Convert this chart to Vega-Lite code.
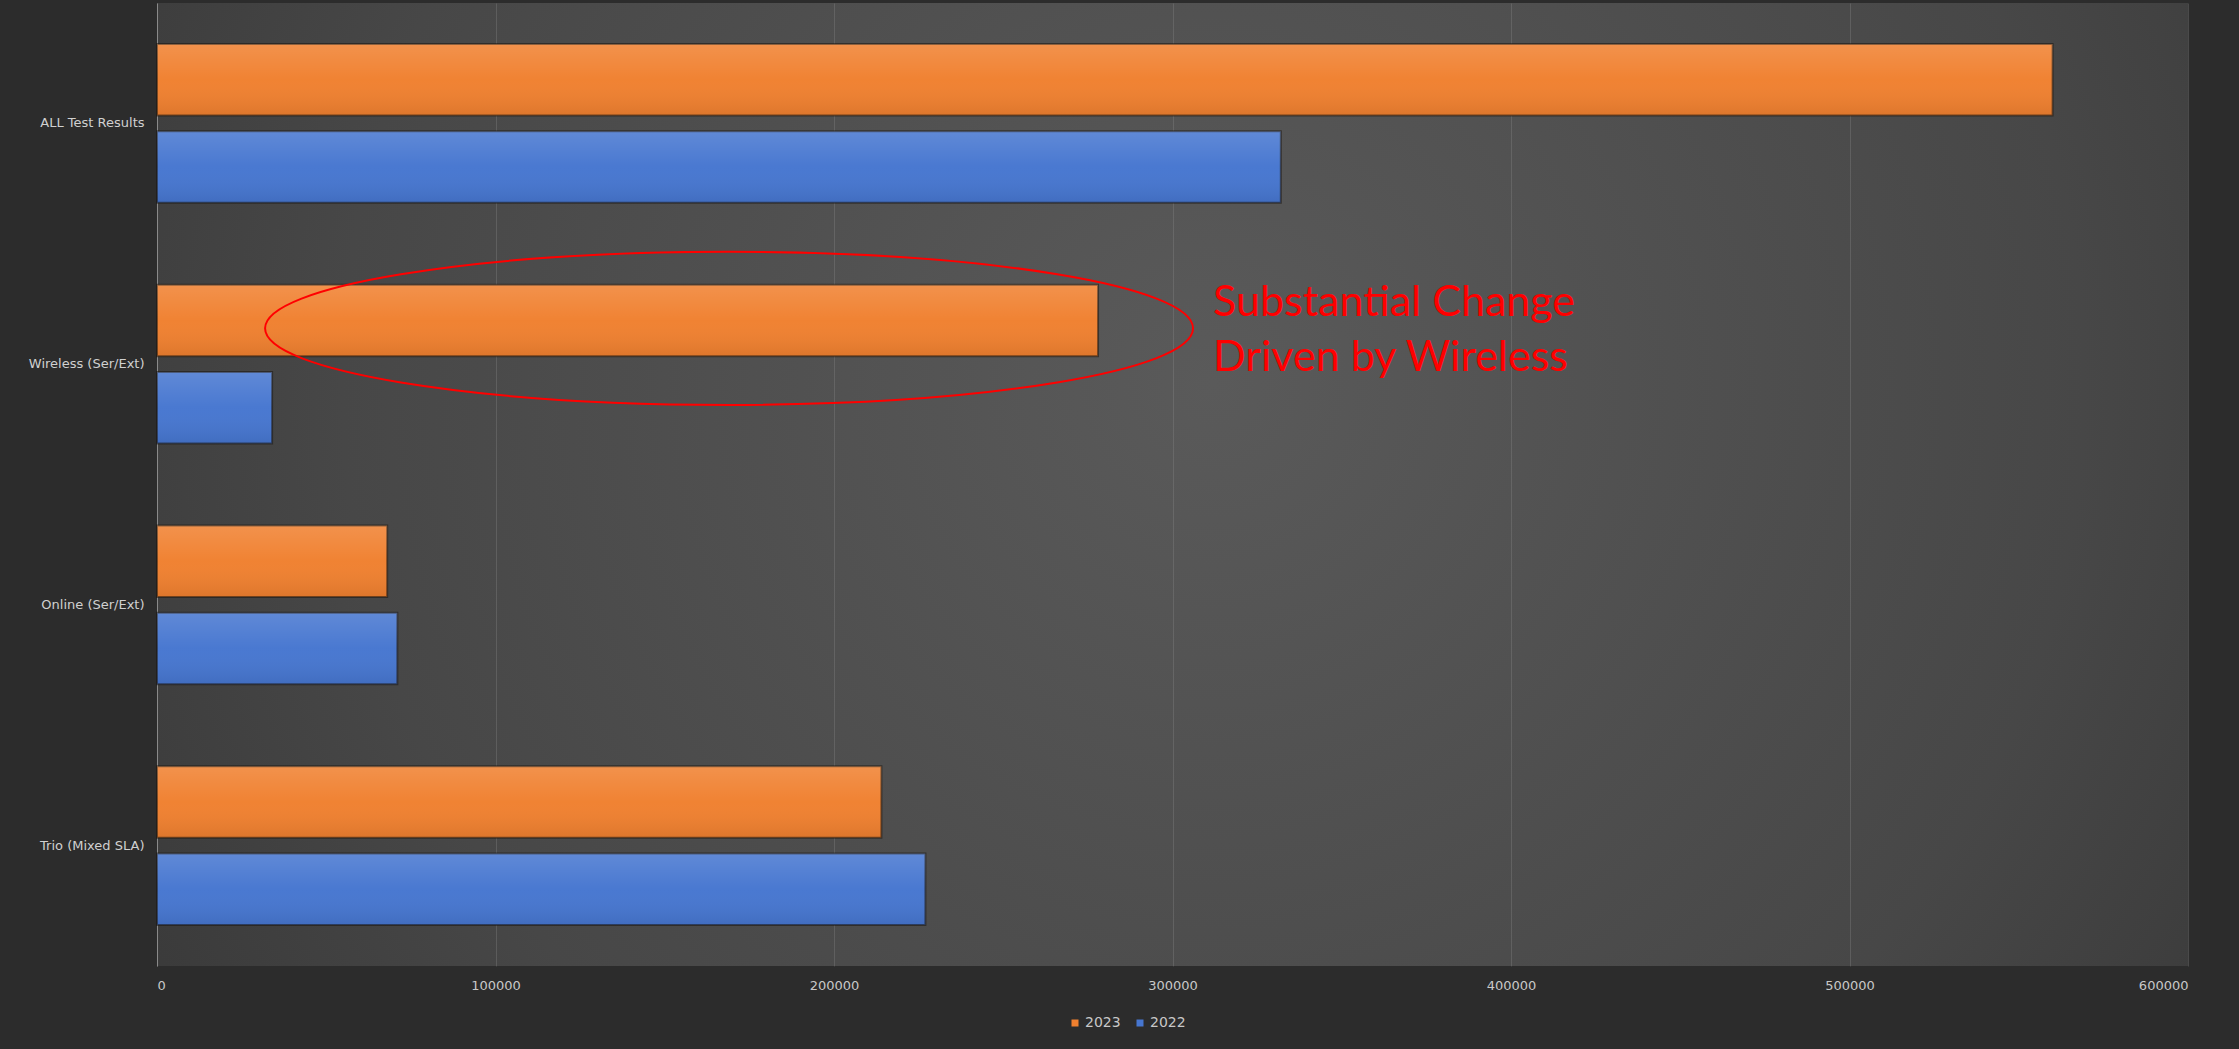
{
  "$schema": "https://vega.github.io/schema/vega-lite/v6.json",
  "autosize": {"type": "none"},
  "width": 2031,
  "height": 963,
  "padding": {"left": 157, "top": 3, "right": 51, "bottom": 83},
  "background": "#2c2c2c",
  "config": {
    "font": "DejaVu Sans"
  },
  "view": {
    "stroke": null,
    "fill": {
      "gradient": "radial",
      "x1": 0.52, "y1": 0.45, "r1": 0,
      "x2": 0.52, "y2": 0.45, "r2": 0.78,
      "stops": [
        {"offset": 0, "color": "#5a5a5a"},
        {"offset": 0.55, "color": "#474747"},
        {"offset": 1, "color": "#2d2d2d"}
      ]
    }
  },
  "datasets": {
    "results": [
      {"category": "ALL Test Results", "year": "2023", "count": 560000},
      {"category": "ALL Test Results", "year": "2022", "count": 332000},
      {"category": "Wireless (Ser/Ext)", "year": "2023", "count": 278000},
      {"category": "Wireless (Ser/Ext)", "year": "2022", "count": 34000},
      {"category": "Online (Ser/Ext)", "year": "2023", "count": 68000},
      {"category": "Online (Ser/Ext)", "year": "2022", "count": 71000},
      {"category": "Trio (Mixed SLA)", "year": "2023", "count": 214000},
      {"category": "Trio (Mixed SLA)", "year": "2022", "count": 227000}
    ],
    "note": [
      {"category": "Wireless (Ser/Ext)", "year": "2023", "center": 169000, "start": 312000, "label": ["Substantial Change", "Driven by Wireless"]}
    ]
  },
  "encoding": {
    "y": {
      "field": "category",
      "type": "nominal",
      "sort": ["ALL Test Results", "Wireless (Ser/Ext)", "Online (Ser/Ext)", "Trio (Mixed SLA)"],
      "scale": {"paddingInner": 0.34, "paddingOuter": 0.17},
      "axis": {
        "title": null,
        "ticks": false,
        "domain": true,
        "domainColor": "#8a8a8a",
        "domainWidth": 1,
        "labelColor": "#d0d0d0",
        "labelFontSize": 13,
        "labelPadding": 13
      }
    },
    "yOffset": {
      "field": "year",
      "type": "nominal",
      "sort": ["2023", "2022"],
      "scale": {"paddingInner": 0.18, "paddingOuter": 0}
    }
  },
  "layer": [
    {
      "data": {"name": "results"},
      "mark": {"type": "bar", "stroke": "#1c1510", "strokeWidth": 2, "strokeOpacity": 0.55},
      "encoding": {
        "x": {
          "field": "count",
          "type": "quantitative",
          "scale": {"domain": [0, 600000], "nice": false},
          "axis": {
            "title": null,
            "values": [0, 100000, 200000, 300000, 400000, 500000, 600000],
            "format": "d",
            "labelOverlap": false,
            "domain": false,
            "ticks": false,
            "grid": true,
            "gridColor": "#8c8c8c",
            "gridOpacity": 0.32,
            "gridWidth": 1,
            "labelColor": "#c8c8c8",
            "labelFontSize": 13,
            "labelPadding": 13
          }
        },
        "color": {
          "field": "year",
          "type": "nominal",
          "scale": {"domain": ["2023", "2022"], "range": ["#f0802f", "#4676d0"]},
          "legend": {
            "title": null,
            "orient": "none",
            "direction": "horizontal",
            "legendX": 911,
            "legendY": 1013,
            "padding": 0,
            "symbolType": "square",
            "symbolSize": 49,
            "symbolStrokeWidth": 0,
            "labelColor": "#c8c8c8",
            "labelFontSize": 14,
            "labelOffset": 3,
            "columnPadding": 12
          }
        }
      }
    },
    {
      "data": {"name": "results"},
      "mark": {
        "type": "bar",
        "fill": {
          "gradient": "linear",
          "x1": 0, "y1": 0, "x2": 0, "y2": 1,
          "stops": [
            {"offset": 0, "color": "rgba(255,255,255,0.14)"},
            {"offset": 0.5, "color": "rgba(255,255,255,0.02)"},
            {"offset": 1, "color": "rgba(0,0,0,0.08)"}
          ]
        }
      },
      "encoding": {
        "x": {"field": "count", "type": "quantitative"}
      }
    },
    {
      "data": {"name": "note"},
      "mark": {
        "type": "point",
        "shape": "M -1 0.017 A 1 0.165 0 1 1 1 0.017 A 1 0.165 0 1 1 -1 0.017 Z",
        "size": 861184,
        "filled": false,
        "stroke": "#ff0000",
        "strokeWidth": 2,
        "opacity": 1
      },
      "encoding": {
        "x": {"field": "center", "type": "quantitative"}
      }
    },
    {
      "data": {"name": "note"},
      "mark": {
        "type": "text",
        "font": "Lato",
        "fontSize": 43,
        "lineHeight": 55,
        "align": "left",
        "baseline": "middle",
        "dy": -17,
        "color": "#ff0000"
      },
      "encoding": {
        "x": {"field": "start", "type": "quantitative"},
        "text": {"field": "label"}
      }
    }
  ]
}
